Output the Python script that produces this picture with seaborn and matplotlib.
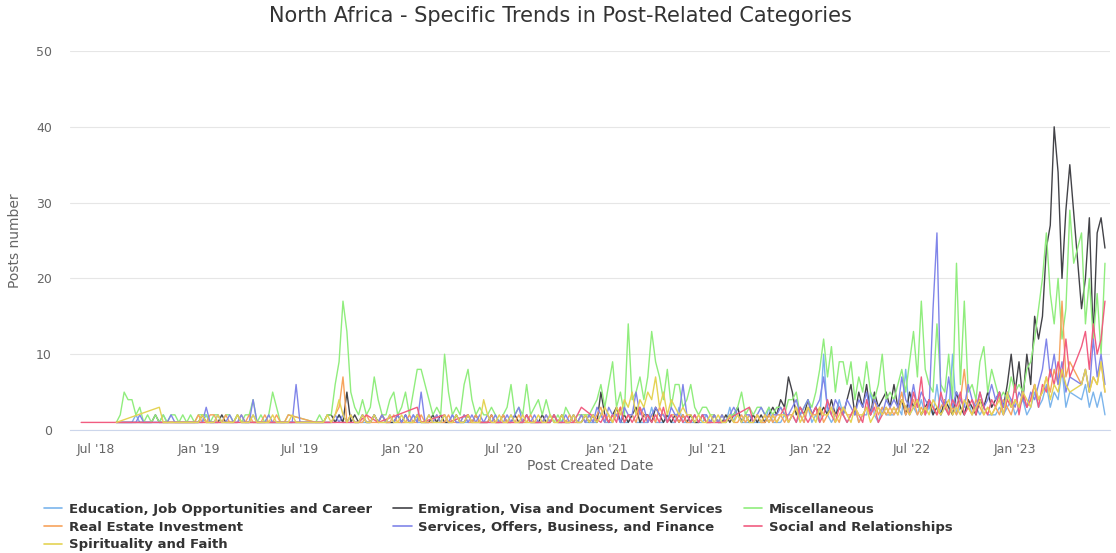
import matplotlib
matplotlib.use("Agg")
import matplotlib.pyplot as plt
import numpy as np
import pandas as pd
import seaborn as sns
from matplotlib.lines import Line2D

na = None

# weekly readings, one row per half year, first week = 2018-06-04
START_WEEK = "2018-06-04"

categories = [
    "Education, Job Opportunities and Career",
    "Emigration, Visa and Document Services",
    "Miscellaneous",
    "Real Estate Investment",
    "Services, Offers, Business, and Finance",
    "Social and Relationships",
    "Spirituality and Faith",
]
colors = ["#7cb5ec", "#434348", "#90ed7d", "#f7a35c", "#8085e9", "#f15c80", "#e4d354"]

education = [
    na, na, na, na, na, na, na, na, na, 1, 1, 1, 1, 1, 2, 1, 1, 1, 1, 1, 1, 2, 1, 1, 1, 1,
    1, 1, 1, 1, 1, 1, 2, 1, 1, 1, 1, 1, 1, 1, 1, 1, 1, 1, 2, 1, 1, 1, 1, 1, 1, 1,
    1, 1, 1, 1, 1, 1, 1, 1, 1, 1, 1, 1, 1, 1, 2, 1, 1, 1, 1, 1, 1, 1, 1, 2, 1, 1,
    1, 1, 1, 1, 1, 1, 1, 2, 1, 1, 1, 1, 1, 1, 1, 1, 1, 2, 1, 1, 1, 1, 1, 1, 1, 1,
    1, 1, 1, 1, 1, 1, 2, 1, 1, 1, 1, 1, 1, 1, 1, 1, 2, 1, 1, 1, 1, 1, 1, 1, 2, 1,
    1, 1, 1, 2, 1, 1, 1, 3, 1, 1, 1, 2, 1, 1, 1, 1, 3, 1, 1, 1, 2, 1, 1, 3, 1, 1,
    1, 1, 1, 1, 2, 1, 1, 1, 1, 1, 3, 1, 3, 1, 1, 1, 1, 1, 1, 1, 3, 1, 1, 1, 2, 1,
    2, 1, 2, 1, 3, 1, 2, 1, 10, 2, 1, 2, 4, 2, 1, 2, 3, 1, 2, 2, 5, 2, 1, 3, 2, 2,
    2, 3, 2, 8, 2, 3, 2, 4, 2, 3, 2, 6, 2, 3, 2, 10, 2, 3, 2, 4, 2, 3, 2, 3, 2, 2,
    2, 3, 2, 3, 4, 2, 3, 4, 2, 3, 5, 3, 4, 6, 3, 5, 4, 8, 3, 5, na, na, 4, 6, 3, 5,
    3, 5, 2,
]
emigration = [
    na, na, na, na, na, na, na, na, na, 1, 1, 1, 1, 1, 1, 1, 1, 1, 1, 2, 1, 1, 1, 1, 1, 1,
    1, 1, 1, 1, 1, 2, 1, 1, 1, 1, 2, 1, 1, 1, 2, 1, na, na, na, na, na, na, na, na, na, na,
    na, na, na, na, na, na, na, na, 1, 1, 1, 2, 2, 1, 2, 1, 5, 1, 2, 1, 2, 1, 1, 2, 1, 2,
    1, 1, 1, 2, 1, 2, 1, 1, 2, 1, 1, 1, 2, 1, 2, 1, 1, 1, 2, 1, 1, 2, 1, 2, 1, 1,
    1, 2, 1, 1, 2, 1, 1, 2, 1, 1, 2, 1, 1, 1, 2, 1, 1, 2, 1, 2, 1, 1, 2, 1, 1, 2,
    1, 2, 1, 5, 2, 1, 2, 3, 1, 2, 1, 2, 3, 1, 2, 2, 1, 3, 2, 1, 2, 1, 2, 1, 2, 1,
    2, 1, 1, 2, 1, 1, 2, 1, 1, 2, 1, 2, 3, 1, 2, 1, 2, 1, 2, 1, 2, 3, 2, 4, 3, 7,
    5, 2, 3, 2, 4, 2, 3, 2, 3, 2, 4, 2, 3, 2, 4, 6, 2, 5, 3, 6, 2, 5, 3, 4, 5, 3,
    6, 3, 4, 2, 5, 3, 4, 2, 3, 4, 2, 3, 2, 4, 3, 2, 5, 3, 2, 4, 3, 2, 4, 3, 5, 3,
    4, 5, 3, 6, 10, 5, 9, 4, 10, 6, 15, 12, 15, 24, 27, 40, 34, 20, 29, 35, na, na, 16, 20, 28, 12,
    26, 28, 24,
]
miscellaneous = [
    na, na, na, na, na, na, na, na, na, 1, 2, 5, 4, 4, 2, 3, 1, 2, 1, 2, 1, 2, 1, 2, 2, 1,
    2, 1, 2, 1, 2, 2, 2, 1, 2, 2, 1, 2, 2, 1, 2, 1, 2, 2, 4, 1, 2, 1, 2, 5, 3, 1,
    1, 2, na, na, na, na, na, na, 1, 2, 1, 2, 2, 6, 9, 17, 13, 5, 3, 2, 4, 2, 3, 7, 4, 2,
    2, 4, 5, 2, 3, 5, 2, 5, 8, 8, 6, 4, 2, 3, 2, 10, 5, 2, 3, 2, 6, 8, 4, 2, 3, 2,
    2, 3, 2, 1, 2, 3, 6, 2, 3, 2, 6, 2, 3, 4, 2, 4, 2, 1, 2, 1, 3, 2, 1, 2, 2, 2,
    2, 3, 4, 6, 3, 6, 9, 3, 5, 2, 14, 4, 5, 7, 4, 7, 13, 9, 7, 4, 8, 3, 6, 6, 3, 4,
    6, 3, 2, 3, 3, 2, 2, 1, 2, 1, 2, 2, 3, 5, 2, 3, 2, 3, 3, 2, 3, 2, 3, 3, 2, 4,
    4, 5, 2, 3, 4, 3, 5, 8, 12, 7, 11, 5, 9, 9, 6, 9, 4, 7, 5, 9, 5, 4, 6, 10, 4, 5,
    4, 6, 8, 5, 9, 13, 7, 17, 8, 6, 5, 14, 6, 5, 10, 4, 22, 6, 17, 5, 6, 4, 9, 11, 5, 8,
    6, 4, 5, 4, 7, 5, 6, 5, 8, 9, 12, 16, 20, 26, 18, 14, 20, 12, 16, 29, 22, na, 26, 14, 20, 12,
    18, 10, 22,
]
real_estate = [
    na, na, na, na, na, na, na, na, na, na, na, na, na, na, na, na, na, na, na, na, na, 1, 1, 1, 1, 1,
    1, 1, 1, 1, 2, 1, 1, 2, 2, 1, 1, 2, 1, 1, 1, 2, 1, 2, 1, 1, 1, 2, 1, 1, 2, 1,
    1, 2, na, na, na, na, na, na, 1, 1, 1, 1, 1, 2, 3, 7, 1, 2, 1, 1, 1, 2, 1, 1, 1, 2,
    1, 1, 2, 1, 1, 1, 2, 1, 1, 2, 1, 1, 1, 2, 1, 1, 2, 1, 1, 1, 2, 1, 1, 2, 1, 1,
    1, 2, 1, 1, 2, 1, 1, 1, 2, 1, 1, 2, 1, 1, 1, 2, 1, 2, 1, 1, 1, 2, 1, 1, 2, 1,
    2, 1, 2, 3, 1, 2, 1, 2, 3, 1, 2, 2, 1, 3, 2, 1, 2, 1, 3, 2, 1, 2, 2, 1, 2, 1,
    1, 2, 1, 2, 1, 1, 2, 1, 2, 1, 2, 1, 1, 2, 1, 2, 1, 2, 1, 1, 2, 1, 2, 2, 1, 2,
    2, 3, 2, 1, 3, 2, 2, 3, 1, 2, 3, 2, 1, 3, 2, 2, 3, 1, 2, 3, 2, 4, 2, 3, 2, 3,
    2, 3, 5, 2, 3, 4, 2, 3, 2, 4, 3, 2, 3, 4, 2, 3, 2, 4, 8, 3, 2, 4, 3, 2, 3, 2,
    3, 2, 4, 3, 2, 4, 3, 5, 3, 4, 6, 4, 5, 7, 5, 8, 6, 17, 7, 9, na, na, 6, 8, 5, 7,
    6, 9, 5,
]
services = [
    na, na, na, na, na, na, na, na, na, 1, 1, 1, 1, 1, 1, 2, 1, 1, 1, 1, 1, 1, 1, 2, 1, 1,
    1, 1, 1, 1, 1, 1, 3, 1, 1, 2, 1, 1, 2, 1, 1, 2, 1, 1, 4, 1, 1, 1, 2, 1, 1, 1,
    1, 1, 1, 6, 1, 1, 1, 1, 1, 1, 1, 1, 1, 2, 1, 2, 1, 2, 1, 1, 2, 1, 1, 2, 1, 2,
    1, 2, 1, 2, 1, 2, 1, 2, 1, 5, 1, 2, 1, 2, 1, 2, 1, 2, 1, 1, 2, 1, 2, 1, 2, 1,
    2, 1, 2, 1, 1, 2, 1, 2, 3, 1, 2, 1, 2, 1, 1, 2, 1, 2, 1, 1, 2, 1, 2, 1, 2, 1,
    2, 1, 3, 2, 1, 3, 2, 2, 1, 3, 2, 2, 5, 2, 3, 1, 2, 3, 2, 2, 1, 3, 2, 2, 6, 2,
    1, 2, 1, 2, 2, 1, 2, 1, 2, 1, 2, 3, 2, 1, 2, 2, 1, 2, 3, 2, 1, 2, 2, 3, 2, 2,
    3, 4, 2, 3, 4, 2, 3, 4, 7, 3, 2, 4, 3, 2, 4, 3, 2, 4, 3, 5, 2, 4, 3, 2, 4, 3,
    4, 3, 7, 4, 3, 6, 3, 5, 4, 3, 16, 26, 4, 3, 7, 3, 5, 4, 3, 6, 4, 3, 5, 3, 4, 6,
    4, 5, 3, 5, 4, 3, 5, 4, 3, 5, 4, 6, 8, 12, 7, 10, 6, 9, 5, 7, na, na, 6, 8, 5, 12,
    7, 10, 6,
]
social = [
    1, na, na, na, na, na, na, na, na, na, na, na, na, na, na, na, na, na, na, na, na, 1, na, na, na, na,
    na, na, na, na, na, na, na, na, na, na, na, na, na, na, na, na, na, na, na, na, na, na, na, na, na, na,
    na, na, na, na, na, na, na, na, na, na, na, na, na, na, na, na, na, na, na, 1, na, 2, na, na, 1, na,
    na, na, na, na, na, na, na, na, 3, 1, na, na, na, na, na, 2, 1, na, na, na, na, 2, 1, na, na, na,
    na, na, na, na, na, na, na, na, na, 1, 2, 1, na, na, na, na, 1, 2, 1, na, na, na, 1, na, 3, na,
    na, na, na, 1, 2, 1, 2, 1, 3, 1, 2, 1, 2, 3, 1, 2, 1, 2, 1, 3, 1, 2, 1, 2, 1, 2,
    1, 2, 1, 2, 1, na, na, na, 1, na, na, na, na, na, na, 3, 1, 2, 1, 2, 1, 2, 1, 2, 3, 1,
    2, 1, 3, 2, 1, 2, 3, 1, 2, 4, 2, 1, 3, 2, 1, 2, 3, 2, 1, 4, 2, 3, 1, 2, 3, 2,
    3, 2, 4, 3, 2, 5, 3, 7, 2, 4, 3, 2, 5, 3, 2, 4, 3, 5, 2, 3, 4, 2, 5, 3, 2, 4,
    3, 5, 2, 4, 3, 6, 2, 5, 3, 4, 6, 3, 6, 5, 8, 6, 9, 7, 12, 7, na, na, 11, 13, 8, 14,
    10, 12, 17,
]
spirituality = [
    na, na, na, na, na, na, na, na, na, 1, na, na, na, na, na, na, na, na, na, na, 3, 1, 1, 1, 1, 1,
    1, 1, 1, 1, 1, 2, 1, 1, 1, 2, 1, 1, 1, 1, 2, 1, 1, 1, 2, 1, 1, 1, 1, 2, 1, 1,
    1, 1, 2, 1, 1, 1, 1, 1, 1, 1, 1, 2, 1, 2, 4, 2, 1, 2, 1, 1, 2, 1, 1, 2, 1, 1,
    1, 2, 1, 1, 2, 1, 1, 1, 2, 1, 1, 2, 1, 1, 1, 2, 1, 1, 2, 1, 1, 2, 1, 1, 1, 4,
    2, 1, 1, 2, 1, 1, 2, 1, 1, 2, 1, 1, 1, 2, 1, 1, 2, 1, 1, 2, 1, 1, 2, 1, 1, 2,
    1, 2, 1, 2, 3, 2, 1, 3, 2, 4, 3, 5, 2, 4, 3, 5, 4, 7, 3, 5, 2, 4, 3, 2, 3, 2,
    2, 1, 2, 1, 1, 2, 1, 2, 1, 1, 2, 1, 2, 1, 2, 1, 1, 2, 1, 2, 1, 2, 1, 2, 2, 1,
    2, 3, 1, 2, 3, 2, 1, 3, 2, 2, 3, 1, 2, 3, 2, 1, 3, 2, 2, 3, 1, 2, 3, 2, 3, 2,
    3, 2, 4, 3, 2, 3, 4, 2, 3, 2, 4, 3, 2, 3, 4, 2, 3, 2, 4, 3, 2, 3, 4, 2, 3, 2,
    3, 4, 2, 5, 3, 4, 3, 5, 4, 3, 6, 4, 5, 7, 4, 6, 5, 8, 6, 5, na, na, 6, 8, 5, 7,
    6, 9, 5,
]

series = [education, emigration, miscellaneous, real_estate, services, social, spirituality]
n_weeks = len(education)
for s in series:
    assert len(s) == n_weeks, (len(s), n_weeks)

weeks = pd.date_range(START_WEEK, periods=n_weeks, freq="7D")
frames = []
for name, values in zip(categories, series):
    frames.append(pd.DataFrame({
        "date": weeks,
        "posts": np.array(values, dtype=float),
        "category": name,
    }))
df = pd.concat(frames, ignore_index=True).dropna()

sns.set_style("white")
plt.rcParams["font.family"] = ["DejaVu Sans"]

W, H = 1116, 553
fig = plt.figure(figsize=(W / 100, H / 100), dpi=100)
ax = fig.add_axes([70 / W, 1 - 430 / H, (1110 - 70) / W, (430 - 51) / H])

sns.lineplot(
    data=df, x="date", y="posts", hue="category", hue_order=categories,
    palette=colors, estimator=None, linewidth=1.0, legend=False, ax=ax,
)

ax.set_xlim(pd.Timestamp("2018-05-15"), pd.Timestamp("2023-06-21"))
ax.set_ylim(0, 50)
ax.set_yticks(range(0, 51, 10))
ticks = pd.date_range("2018-07-01", "2023-01-01", freq="6MS")
ax.set_xticks(ticks)
ax.set_xticklabels([f"{t:%b} '{t:%y}" for t in ticks])

ax.grid(axis="y", color="#e6e6e6", linewidth=0.8)
ax.set_axisbelow(True)
for side in ["left", "right", "top"]:
    ax.spines[side].set_visible(False)
ax.spines["bottom"].set_color("#ccd6eb")
ax.spines["bottom"].set_linewidth(0.8)
ax.tick_params(axis="x", colors="#666666", labelsize=9, length=8, width=0.8,
               direction="out", pad=1.5)
ax.tick_params(axis="x", color="#ccd6eb")
ax.tick_params(axis="y", colors="#666666", labelsize=9, length=0, pad=13)

ax.set_xlabel("Post Created Date", fontsize=10, color="#666666")
ax.xaxis.set_label_coords(0.5, -(466 - 430) / 379)
ax.xaxis.label.set_va("center")
ax.set_ylabel("Posts number", fontsize=10, color="#666666")
ax.yaxis.set_label_coords(-(70 - 15) / 1040, 0.5)
ax.yaxis.label.set_va("center")

fig.text(560 / W, 1 - 16 / H, "North Africa - Specific Trends in Post-Related Categories",
         ha="center", va="center", fontsize=15, color="#333333")

# Highcharts fills the legend row by row, matplotlib column by column
order = [0, 3, 6, 1, 4, 2, 5]
handles = [Line2D([], [], color=colors[i], linewidth=1.2) for i in order]
labels = [categories[i] for i in order]
fig.legend(
    handles, labels, ncol=3, loc="upper left", bbox_to_anchor=(44 / W, 1 - 503 / H),
    frameon=False, prop={"weight": "bold", "size": 9.5}, labelcolor="#333333",
    handlelength=1.4, handletextpad=0.5, columnspacing=1.6, labelspacing=0.35,
    borderaxespad=0, borderpad=0,
)

fig.savefig("out.png", dpi=100)
